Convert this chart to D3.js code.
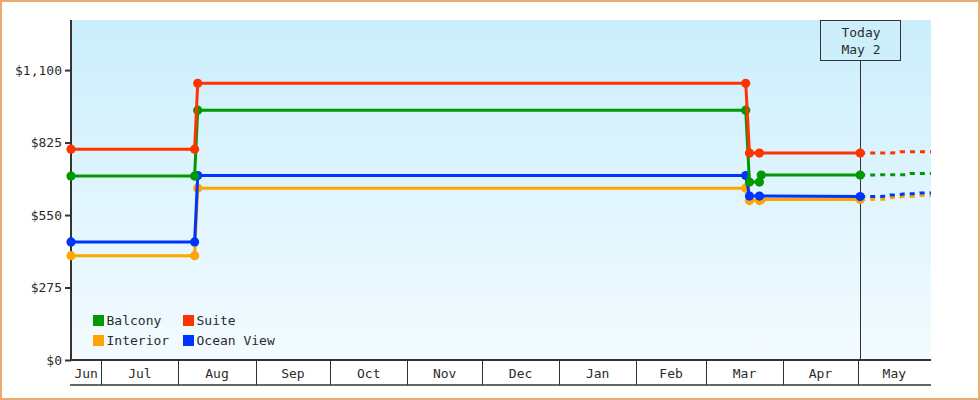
<!DOCTYPE html>
<html>
<head>
<meta charset="utf-8">
<script src="https://cdn.jsdelivr.net/npm/d3@7"></script>
<style>
  html, body { margin: 0; padding: 0; background: #fff; }
  svg { display: block; }
  text { font-family: "DejaVu Sans Mono", monospace; font-size: 13px; fill: #2b2b2b; }
</style>
</head>
<body>
<svg id="chart" width="980" height="400"></svg>
<script>
// ---- data ----
const seriesNames = ["Interior", "Ocean View", "Balcony", "Suite"];
const legendOrder = ["Balcony", "Suite", "Interior", "Ocean View"];
const seriesColors = ["#ffa500", "#0033ff", "#009900", "#ff3300"];

const interiorHistory = [
  ["2022-06-18T19:40", 396], ["2022-08-07T12:00", 396], ["2022-08-08T18:00", 652],
  ["2023-03-17T00:00", 652], ["2023-03-18T12:00", 605], ["2023-03-22T12:00", 605],
  ["2023-03-23T06:00", 609], ["2023-05-02T00:00", 609]
];
const oceanViewHistory = [
  ["2022-06-18T19:40", 448], ["2022-08-07T12:00", 448], ["2022-08-08T18:00", 700],
  ["2023-03-17T00:00", 700], ["2023-03-18T12:00", 622], ["2023-03-22T12:00", 622],
  ["2023-05-02T00:00", 620]
];
const balconyHistory = [
  ["2022-06-18T19:40", 698], ["2022-08-07T12:00", 698], ["2022-08-08T18:00", 948],
  ["2023-03-17T00:00", 948], ["2023-03-18T12:00", 675], ["2023-03-22T12:00", 675],
  ["2023-03-23T06:00", 702], ["2023-05-02T00:00", 702]
];
const suiteHistory = [
  ["2022-06-18T19:40", 800], ["2022-08-07T12:00", 800], ["2022-08-08T18:00", 1050],
  ["2023-03-17T00:00", 1050], ["2023-03-18T12:00", 785], ["2023-03-22T12:00", 785],
  ["2023-05-02T00:00", 785]
];

const interiorForecast = [
  ["2023-05-02T00:00", 609], ["2023-05-13T00:00", 610], ["2023-05-14T00:00", 616],
  ["2023-05-18T00:00", 617], ["2023-05-19T00:00", 620], ["2023-05-25T00:00", 621],
  ["2023-05-26T00:00", 624], ["2023-05-30T11:00", 624]
];
const oceanViewForecast = [
  ["2023-05-02T00:00", 620], ["2023-05-13T00:00", 621], ["2023-05-14T00:00", 626],
  ["2023-05-18T00:00", 627], ["2023-05-19T00:00", 630], ["2023-05-25T00:00", 631],
  ["2023-05-26T00:00", 634], ["2023-05-30T11:00", 634]
];
const balconyForecast = [
  ["2023-05-02T00:00", 702], ["2023-05-21T00:00", 703], ["2023-05-22T00:00", 708],
  ["2023-05-30T11:00", 708]
];
const suiteForecast = [
  ["2023-05-02T00:00", 785], ["2023-05-17T00:00", 786], ["2023-05-18T00:00", 790],
  ["2023-05-30T11:00", 790]
];

const yTicks = [0, 275, 550, 825, 1100];
const yMax = 1290;
const dateStart = "2022-06-18T19:40";
const dateEnd = "2023-05-30T11:00";
const todayDate = "2023-05-02T00:00";
const todayLabel = ["Today", "May 2"];

// ---- layout ----
const W = 980, H = 400;
const m = { left: 71, right: 931, top: 20, bottom: 360 };
const bandBottom = 385;

const parse = s => new Date(s + "Z");
const svg = d3.select("#chart");

const x = d3.scaleUtc().domain([parse(dateStart), parse(dateEnd)]).range([m.left, m.right]);
const y = d3.scaleLinear().domain([0, yMax]).range([m.bottom, m.top]);

// frame
svg.append("rect").attr("x", 1).attr("y", 1).attr("width", W - 2).attr("height", H - 2)
  .attr("fill", "#fff").attr("stroke", "#e8ac6c").attr("stroke-width", 2);

// gradient background
const defs = svg.append("defs");
const grad = defs.append("linearGradient").attr("id", "bg").attr("x1", 0).attr("y1", 0).attr("x2", 0).attr("y2", 1);
grad.append("stop").attr("offset", "0%").attr("stop-color", "#cbeefc");
grad.append("stop").attr("offset", "100%").attr("stop-color", "#f3fbff");
svg.append("rect").attr("x", m.left).attr("y", m.top)
  .attr("width", m.right - m.left).attr("height", m.bottom - m.top).attr("fill", "url(#bg)");

defs.append("clipPath").attr("id", "plotclip").append("rect")
  .attr("x", m.left - 6).attr("y", m.top).attr("width", m.right - m.left + 6).attr("height", m.bottom - m.top + 6);

// y axis
const yAxis = d3.axisLeft(y).tickValues(yTicks).tickFormat(d3.format("$,")).tickSize(6).tickPadding(3);
const yg = svg.append("g").attr("transform", `translate(${m.left},0)`).call(yAxis);
yg.select(".domain").remove();
yg.selectAll(".tick line").attr("stroke", "#333").attr("stroke-width", 2);
yg.selectAll(".tick text").attr("font-family", "DejaVu Sans Mono").attr("font-size", 13).attr("fill", "#2b2b2b");
svg.append("line").attr("x1", m.left).attr("x2", m.left).attr("y1", m.top).attr("y2", m.bottom + 1)
  .attr("stroke", "#333").attr("stroke-width", 2);

// x month bands
const d0 = x.domain()[0], d1 = x.domain()[1];
const monthStarts = d3.utcMonth.range(d3.utcMonth.ceil(d0), d1);
const edges = [d0, ...monthStarts, d1];
const xg = svg.append("g");
monthStarts.forEach(ms => {
  xg.append("line").attr("x1", Math.round(x(ms)) + 0.5).attr("x2", Math.round(x(ms)) + 0.5)
    .attr("y1", m.bottom).attr("y2", bandBottom).attr("stroke", "#333").attr("stroke-width", 1);
});
for (let i = 0; i < edges.length - 1; i++) {
  const cx = (x(edges[i]) + x(edges[i + 1])) / 2;
  xg.append("text").attr("x", cx).attr("y", (m.bottom + bandBottom) / 2 + 1).attr("dy", "0.35em")
    .attr("text-anchor", "middle").text(d3.utcFormat("%b")(edges[i]));
}
xg.append("line").attr("x1", m.left - 1).attr("x2", m.right).attr("y1", m.bottom).attr("y2", m.bottom)
  .attr("stroke", "#333").attr("stroke-width", 2);
xg.append("line").attr("x1", m.left - 1).attr("x2", m.right).attr("y1", bandBottom).attr("y2", bandBottom)
  .attr("stroke", "#333").attr("stroke-width", 1.5);

// today marker
const tx = Math.round(x(parse(todayDate))) + 0.5;
svg.append("line").attr("x1", tx).attr("x2", tx).attr("y1", 61).attr("y2", m.bottom)
  .attr("stroke", "#333").attr("stroke-width", 1);
svg.append("rect").attr("x", tx - 40).attr("y", 20.5).attr("width", 80).attr("height", 40)
  .attr("fill", "#cdeffc").attr("stroke", "#333").attr("stroke-width", 1);
todayLabel.forEach((t, i) => {
  svg.append("text").attr("x", tx + 0.5).attr("y", 37 + i * 17).attr("text-anchor", "middle").text(t);
});

// series
const history = [interiorHistory, oceanViewHistory, balconyHistory, suiteHistory];
const forecast = [interiorForecast, oceanViewForecast, balconyForecast, suiteForecast];
const line = d3.line().x(d => x(parse(d[0]))).y(d => y(d[1]));
const plot = svg.append("g").attr("clip-path", "url(#plotclip)");

seriesNames.forEach((name, i) => {
  const g = plot.append("g");
  g.append("path").datum(forecast[i]).attr("d", line).attr("fill", "none")
    .attr("stroke", seriesColors[i]).attr("stroke-width", 3).attr("stroke-dasharray", "5,5");
  g.append("path").datum(history[i]).attr("d", line).attr("fill", "none")
    .attr("stroke", seriesColors[i]).attr("stroke-width", 3).attr("stroke-linejoin", "round");
  g.selectAll("circle").data(history[i]).join("circle")
    .attr("cx", d => x(parse(d[0]))).attr("cy", d => y(d[1])).attr("r", 4.6)
    .attr("fill", seriesColors[i]);
});

// legend
const legend = svg.append("g");
legendOrder.forEach((name, k) => {
  const col = k % 2, row = Math.floor(k / 2);
  const lx = 93 + col * 90, ly = 315 + row * 20;
  const c = seriesColors[seriesNames.indexOf(name)];
  legend.append("rect").attr("x", lx).attr("y", ly).attr("width", 11).attr("height", 11).attr("fill", c);
  legend.append("text").attr("x", lx + 13.5).attr("y", ly + 5.5).attr("dy", "0.35em").text(name);
});
</script>
</body>
</html>
